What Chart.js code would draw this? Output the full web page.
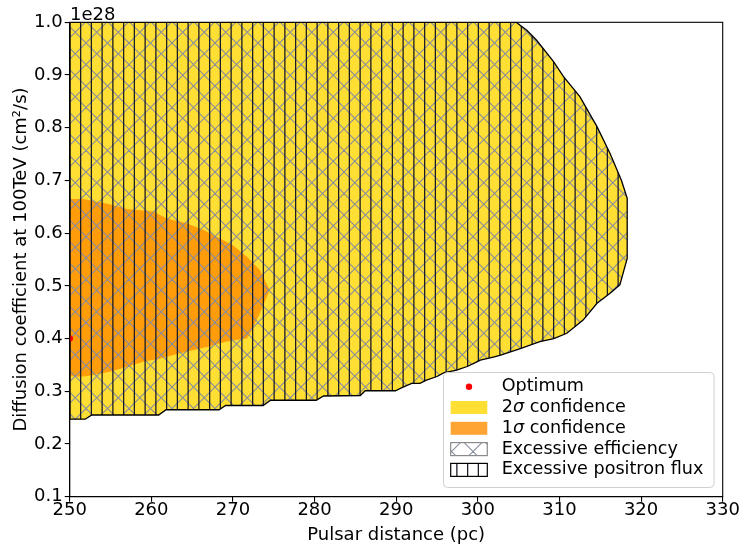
<!DOCTYPE html>
<html>
<head>
<meta charset="utf-8">
<script src="https://cdn.jsdelivr.net/npm/chart.js@4.4.0/dist/chart.umd.min.js"></script>
<style>
  html, body { margin: 0; padding: 0; background: #fff; }
  #wrap { width: 747px; height: 553px; }
</style>
</head>
<body>
<div id="wrap"><canvas id="c" width="747" height="553"></canvas></div>
<script>
// Axis ticks (pulsar distance in pc, diffusion coefficient in units of 1e28 cm^2/s)
const xTicks = [250, 260, 270, 280, 290, 300, 310, 320, 330];
const yTicks = [0.1, 0.2, 0.3, 0.4, 0.5, 0.6, 0.7, 0.8, 0.9, 1.0];

// Best fit point
const optimumX = [250];
const optimumY = [0.4];

// 2 sigma contour, traced clockwise from the top-left corner
const sigma2X = [250, 304.7, 306.0, 307.2, 309.3, 310.5, 312.5, 314.6, 316.2, 317.6, 318.3, 318.3,
  317.4, 316.2, 314.6, 312.9, 310.9, 309.3, 307.6, 305.2, 302.7, 301.9, 300.3, 299.5, 298.7,
  297.4, 295.8, 295.0, 293.7, 292.9, 291.9, 290.7, 289.9, 286.2, 285.6, 281.1, 280.2, 274.6,
  273.7, 269.1, 268.3, 261.8, 260.9, 252.7, 251.9, 250, 250];
const sigma2Y = [1.0, 1.0, 0.985, 0.966, 0.925, 0.897, 0.859, 0.802, 0.751, 0.700, 0.666, 0.552,
  0.502, 0.486, 0.467, 0.435, 0.410, 0.400, 0.394, 0.381, 0.368, 0.365, 0.359, 0.353, 0.347,
  0.340, 0.335, 0.328, 0.321, 0.315, 0.315, 0.307, 0.301, 0.301, 0.292, 0.291, 0.283, 0.283,
  0.273, 0.273, 0.265, 0.265, 0.255, 0.255, 0.247, 0.247, 1.0];

// 1 sigma contour
const sigma1X = [250, 250.2, 251.7, 254.9, 257.0, 260.2, 261.9, 264.3, 266.4, 268.4, 270.0, 271.7,
  273.3, 274.5, 273.3, 272.1, 271.7, 270.0, 268.4, 266.8, 265.1, 263.5, 261.1, 259.0, 257.0,
  254.9, 252.9, 251.7, 250.4, 250, 250];
const sigma1Y = [0.665, 0.665, 0.665, 0.655, 0.646, 0.641, 0.628, 0.619, 0.606, 0.590, 0.577, 0.555,
  0.530, 0.492, 0.448, 0.410, 0.400, 0.397, 0.391, 0.384, 0.378, 0.372, 0.362, 0.356, 0.346,
  0.337, 0.331, 0.328, 0.328, 0.331, 0.665];

// Excluded regions cover the same area as the 2 sigma contour in the picture
const effX = sigma2X, effY = sigma2Y;
const fluxX = sigma2X, fluxY = sigma2Y;

const FONT = "'DejaVu Sans', 'Liberation Sans', sans-serif";
Chart.defaults.font.family = FONT;
Chart.defaults.color = '#000';

// hatch tiles, anchored to the canvas origin like matplotlib hatches
function vertHatch() {
  const c = document.createElement('canvas');
  c.width = 43; c.height = 43;
  const g = c.getContext('2d');
  g.strokeStyle = '#1c1c26';
  g.lineWidth = 1.3;
  for (let i = 0; i < 4; i++) {
    const x = 5.375 + i * 10.75;
    g.beginPath(); g.moveTo(x, -2); g.lineTo(x, 45); g.stroke();
  }
  return g.createPattern(c, 'repeat');
}
function crossHatch() {
  const c = document.createElement('canvas');
  c.width = 43; c.height = 43;
  const g = c.getContext('2d');
  g.strokeStyle = '#878c9e';
  g.lineWidth = 1.1;
  for (let k = -3; k <= 5; k++) {
    const o = k * 21.5;
    g.beginPath(); g.moveTo(o - 5, -5); g.lineTo(o + 48, 48); g.stroke();
    g.beginPath(); g.moveTo(o + 5, -5); g.lineTo(o - 48, 48); g.stroke();
  }
  return g.createPattern(c, 'repeat');
}
const vPat = vertHatch();
const xPat = crossHatch();

const toPts = (xs, ys) => xs.map((x, i) => ({ x: x, y: ys[i] }));
const NONE = 'rgba(0,0,0,0)';

const colors = {
  sigma2: 'rgba(255,215,0,0.8)',
  sigma1: 'rgba(255,140,0,0.8)'
};

// spines, offset text and the legend box
const extras = {
  id: 'extras',
  afterDatasetsDraw(chart) {
    const { ctx, chartArea: a } = chart;
    ctx.save();
    ctx.strokeStyle = '#000';
    ctx.lineWidth = 1.1;
    ctx.strokeRect(a.left, a.top, a.right - a.left, a.bottom - a.top);
    ctx.restore();
  },
  afterDraw(chart) {
    const ctx = chart.ctx;
    ctx.save();
    // offset text
    ctx.fillStyle = '#000';
    ctx.font = '18px ' + FONT;
    ctx.textAlign = 'left';
    ctx.textBaseline = 'alphabetic';
    ctx.fillText('1e28', 70, 20);

    // legend frame
    const lx = 443.5, ly = 372.5, lw = 270.5, lh = 115;
    ctx.beginPath();
    ctx.roundRect(lx, ly, lw, lh, 4);
    ctx.fillStyle = 'rgba(255,255,255,0.8)';
    ctx.fill();
    ctx.strokeStyle = '#d0d0d0';
    ctx.lineWidth = 1;
    ctx.stroke();

    const rows = [386.7, 407.5, 428.3, 449.1, 469.9];
    const px = 450.7, pw = 36.6, ph = 13, tx = 501.7;

    // Optimum marker
    ctx.beginPath();
    ctx.arc(469, rows[0], 3.2, 0, Math.PI * 2);
    ctx.fillStyle = '#ff0000';
    ctx.fill();

    // patches
    ctx.fillStyle = colors.sigma2;
    ctx.fillRect(px, rows[1] - ph / 2, pw, ph);
    ctx.fillStyle = colors.sigma1;
    ctx.fillRect(px, rows[2] - ph / 2, pw, ph);

    ctx.fillStyle = xPat;
    ctx.fillRect(px, rows[3] - ph / 2, pw, ph);
    ctx.strokeStyle = '#8a8a8a';
    ctx.lineWidth = 1.2;
    ctx.strokeRect(px, rows[3] - ph / 2, pw, ph);

    ctx.fillStyle = vPat;
    ctx.fillRect(px, rows[4] - ph / 2, pw, ph);
    ctx.strokeStyle = '#000';
    ctx.strokeRect(px, rows[4] - ph / 2, pw, ph);

    // labels
    const fs = 17.6;
    const reg = fs + 'px ' + FONT, ital = 'italic ' + fs + 'px ' + FONT;
    ctx.fillStyle = '#000';
    ctx.textBaseline = 'middle';
    ctx.font = reg;
    ctx.fillText('Optimum', tx, rows[0]);
    [['2', rows[1]], ['1', rows[2]]].forEach(([n, y]) => {
      let x = tx;
      ctx.font = reg; ctx.fillText(n, x, y); x += ctx.measureText(n).width;
      ctx.font = ital; ctx.fillText('σ', x, y); x += ctx.measureText('σ').width;
      ctx.font = reg; ctx.fillText(' confidence', x, y);
    });
    ctx.fillText('Excessive efficiency', tx, rows[3]);
    ctx.fillText('Excessive positron flux', tx, rows[4]);
    ctx.restore();
  }
};

new Chart(document.getElementById('c'), {
  type: 'scatter',
  data: {
    datasets: [
      {
        label: 'Optimum',
        data: toPts(optimumX, optimumY),
        showLine: false,
        pointRadius: 3.3,
        pointBackgroundColor: '#ff0000',
        pointBorderColor: '#ff0000',
        pointBorderWidth: 0,
        clip: 0,
        order: 0
      },
      {
        label: '2σ confidence',
        data: toPts(sigma2X, sigma2Y),
        showLine: true,
        fill: 'shape',
        backgroundColor: colors.sigma2,
        borderColor: NONE,
        borderWidth: 0,
        pointRadius: 0,
        tension: 0,
        order: 4
      },
      {
        label: '1σ confidence',
        data: toPts(sigma1X, sigma1Y),
        showLine: true,
        fill: 'shape',
        backgroundColor: colors.sigma1,
        borderColor: NONE,
        borderWidth: 0,
        pointRadius: 0,
        tension: 0,
        order: 3
      },
      {
        label: 'Excessive efficiency',
        data: toPts(effX, effY),
        showLine: true,
        fill: 'shape',
        backgroundColor: xPat,
        borderColor: NONE,
        borderWidth: 0,
        pointRadius: 0,
        tension: 0,
        order: 2
      },
      {
        label: 'Excessive positron flux',
        data: toPts(fluxX, fluxY),
        showLine: true,
        fill: 'shape',
        backgroundColor: vPat,
        borderColor: '#000',
        borderWidth: 1.3,
        pointRadius: 0,
        tension: 0,
        order: 1
      }
    ]
  },
  options: {
    responsive: false,
    devicePixelRatio: 1,
    animation: false,
    events: [],
    layout: { padding: { left: 0, top: 22.3, right: 24.3, bottom: 0 } },
    plugins: {
      legend: { display: false },
      tooltip: { enabled: false }
    },
    scales: {
      x: {
        type: 'linear',
        min: 250,
        max: 330,
        afterBuildTicks: (s) => { s.ticks = xTicks.map(v => ({ value: v })); },
        afterFit: (s) => { s.height = 56.3; },
        grid: { drawOnChartArea: false, drawTicks: true, tickLength: 5, color: '#000', lineWidth: 1.1 },
        border: { display: true, color: '#000', width: 1.1 },
        ticks: {
          color: '#000',
          padding: 0,
          maxRotation: 0,
          font: { size: 18, lineHeight: 1 },
          callback: (v) => String(v)
        },
        title: {
          display: true,
          text: 'Pulsar distance (pc)',
          color: '#000',
          font: { size: 18, lineHeight: 1.2 },
          padding: { top: 0, bottom: 6.7 }
        }
      },
      y: {
        type: 'linear',
        min: 0.1,
        max: 1.0,
        afterBuildTicks: (s) => { s.ticks = yTicks.map(v => ({ value: v })); },
        afterFit: (s) => { s.width = 69.7; },
        grid: { drawOnChartArea: false, drawTicks: true, tickLength: 5, color: '#000', lineWidth: 1.1 },
        border: { display: true, color: '#000', width: 1.1 },
        ticks: {
          color: '#000',
          padding: 2,
          font: { size: 18, lineHeight: 1 },
          callback: (v) => Number(v).toFixed(1)
        },
        title: {
          display: true,
          text: 'Diffusion coefficient at 100TeV (cm²/s)',
          color: '#000',
          font: { size: 18, lineHeight: 1.2 },
          padding: { top: 11, bottom: 0 }
        }
      }
    }
  },
  plugins: [extras]
});
</script>
</body>
</html>
